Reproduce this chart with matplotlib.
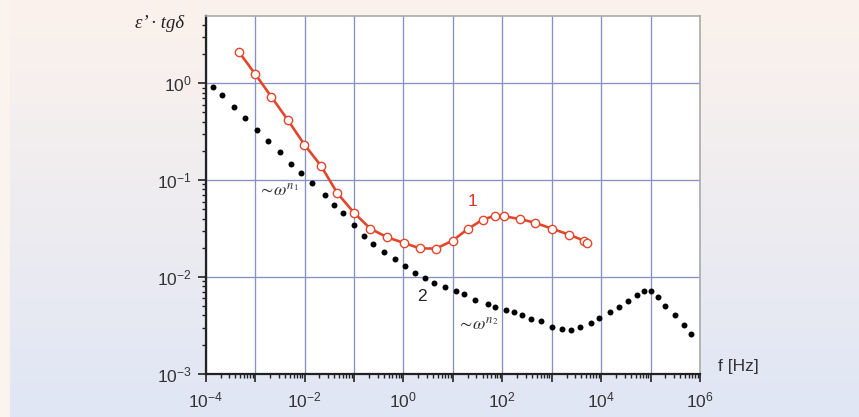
import numpy as np
import matplotlib as mpl
mpl.use('Agg')
import matplotlib.pyplot as plt
from matplotlib.ticker import LogLocator, FuncFormatter, NullFormatter

plt.rcParams['font.family'] = ['Liberation Sans', 'DejaVu Sans']
plt.rcParams['mathtext.fontset'] = 'custom'
plt.rcParams['mathtext.rm'] = 'Liberation Sans'
plt.rcParams['mathtext.it'] = 'Liberation Sans:italic'
plt.rcParams['mathtext.default'] = 'regular'

# curve 1: open circles joined by a line
f1 = [4.72e-4, 1.01e-3, 2.12e-3, 4.62e-3, 9.89e-3, 0.0215, 0.0459, 0.101,
      0.214, 0.472, 1.03, 2.16, 4.56, 9.93, 19.8, 40.2, 71.3, 110,
      228, 453, 1014, 2239, 4500, 5180]
y1 = [2.10, 1.238, 0.727, 0.415, 0.233, 0.1404, 0.0734, 0.0457,
      0.0315, 0.0256, 0.0224, 0.0197, 0.0196, 0.0237, 0.0311, 0.0390, 0.0429, 0.0422,
      0.0396, 0.0363, 0.0315, 0.0273, 0.0237, 0.0224]

# curve 2: black dots
f2 = [1.39e-4, 2.14e-4, 3.68e-4, 6.24e-4, 1.11e-3, 1.82e-3, 3.14e-3, 5.32e-3,
      8.67e-3, 0.01436, 0.0259, 0.040, 0.0608, 0.1014, 0.157, 0.243,
      0.410, 0.676, 1.077, 1.74, 2.73, 4.16, 6.93, 11.4,
      16.8, 28.1, 50.7, 71.3, 117, 169, 254, 386,
      607, 1014, 1615, 2478, 3786, 6380, 9060, 14900,
      22970, 34930, 53100, 74300, 104400, 144600, 198600, 312000,
      474000, 667000]
y2 = [0.923, 0.763, 0.574, 0.442, 0.330, 0.256, 0.197, 0.1455,
      0.118, 0.0931, 0.0706, 0.0556, 0.0457, 0.0346, 0.0267, 0.0221,
      0.01823, 0.01534, 0.01306, 0.01099, 0.00977, 0.00867, 0.00794, 0.00717,
      0.00662, 0.00574, 0.00527, 0.00491, 0.00453, 0.00432, 0.00402, 0.00369,
      0.00348, 0.00305, 0.00292, 0.00285, 0.00304, 0.00336, 0.00379, 0.00429,
      0.00485, 0.00570, 0.00646, 0.00709, 0.00717, 0.00616, 0.00498, 0.00406,
      0.00315, 0.00258]

W, H = 859, 417
fig = plt.figure(figsize=(W / 100, H / 100), dpi=100)

# soft pink-to-blue backdrop
top = np.array([252, 242, 236]) / 255
bot = np.array([224, 230, 245]) / 255
t = np.linspace(0, 1, H)[:, None, None]
grad = top * (1 - t) + bot * t
grad = np.repeat(grad, W, axis=1)
grad[:, :10, :] = np.array([252, 243, 238]) / 255
bg = fig.add_axes([0, 0, 1, 1], zorder=-10)
bg.imshow(grad, aspect='auto', extent=[0, 1, 0, 1])
bg.axis('off')

ax = fig.add_axes([205.7 / W, 1 - 373.7 / H, 494.3 / W, 357.7 / H])
ax.set_facecolor('white')
ax.set_xscale('log')
ax.set_yscale('log')
ax.set_xlim(1e-4, 1e6)
ax.set_ylim(1e-3, 4.95)

ax.grid(True, which='major', color='#8890c6', linewidth=0.95)
ax.set_axisbelow(True)

ax.plot(f1, y1, '-', color='#e2462c', linewidth=1.9, zorder=3)
ax.plot(f1, y1, 'o', markerfacecolor='white', markeredgecolor='#e2462c',
        markersize=6, markeredgewidth=1.0, zorder=4)
ax.plot(f2, y2, 'o', color='black', markersize=4.3, markeredgewidth=0, zorder=4)

ax.xaxis.set_major_locator(LogLocator(base=10, numticks=20))
ax.xaxis.set_minor_locator(LogLocator(base=10, subs=np.arange(2, 10), numticks=20))
ax.yaxis.set_major_locator(LogLocator(base=10, numticks=20))
ax.yaxis.set_minor_locator(LogLocator(base=10, subs=np.arange(2, 10), numticks=20))
ax.xaxis.set_major_formatter(FuncFormatter(
    lambda v, p: r'$10^{%d}$' % round(np.log10(v)) if round(np.log10(v)) % 2 == 0 else ''))
ax.yaxis.set_major_formatter(FuncFormatter(lambda v, p: r'$10^{%d}$' % round(np.log10(v))))
ax.xaxis.set_minor_formatter(NullFormatter())
ax.yaxis.set_minor_formatter(NullFormatter())

ax.tick_params(which='both', direction='out', colors='#222222', labelcolor='#333333',
               labelsize=12.5)
ax.tick_params(which='major', length=6, width=1.2)
ax.tick_params(which='minor', length=3, width=1.0)
ax.tick_params(axis='x', pad=6)
ax.tick_params(axis='y', pad=4)

for s in ['left', 'bottom']:
    ax.spines[s].set_color('#222222')
    ax.spines[s].set_linewidth(1.6)
for s in ['top', 'right']:
    ax.spines[s].set_color('#aaaaaa')
    ax.spines[s].set_linewidth(1.2)

serif_it = dict(family='Liberation Serif', style='italic')
fig.text(160 / W, 1 - 23 / H, 'ε’ · tgδ', fontsize=13.5, ha='center', va='center',
         color='#222222', **serif_it)
fig.text(738 / W, 1 - 367 / H, 'f [Hz]', fontsize=12.5, ha='center', va='center',
         color='#333333')

fig.text(472.7 / W, 1 - 201.7 / H, '1', color='#e0302a', fontsize=12.5,
         ha='center', va='center')
fig.text(421.7 / W, 1 - 296.7 / H, '2', color='#222222', fontsize=12.5,
         ha='center', va='center')

# power-law slope notes
for x, y, sub in [(278, 191, '1'), (478, 325, '2')]:
    fig.text(x / W, 1 - y / H, r'$\mathit{\sim\!\omega^{n_%s}}$' % sub,
             math_fontfamily='stix', fontsize=13, ha='center', va='center',
             color='#333333')

fig.savefig('out.png', dpi=100)
